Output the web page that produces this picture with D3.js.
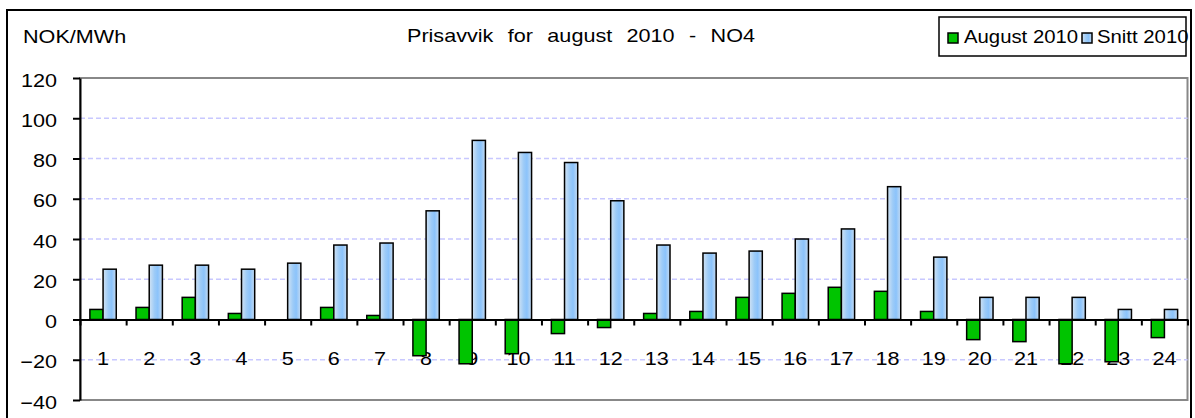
<!DOCTYPE html>
<html>
<head>
<meta charset="utf-8">
<script src="https://cdn.jsdelivr.net/npm/d3@7"></script>
<style>
  body { margin: 0; background: #fff; }
  svg text { font-family: "Liberation Sans", Arial, sans-serif; fill: #000; }
</style>
</head>
<body>
<svg id="chart" width="1195" height="418"></svg>
<script>
// data
var hours = d3.range(1, 25).map(String),
    august = [5, 6, 11, 3, 0, 6, 2, -18, -22, -17, -7, -4, 3, 4, 11, 13, 16, 14, 4, -10, -11, -22, -21, -9],
    snitt = [25, 27, 27, 25, 28, 37, 38, 54, 89, 83, 78, 59, 37, 33, 34, 40, 45, 66, 31, 11, 11, 11, 5, 5],
    yTicks = [-40, -20, 0, 20, 40, 60, 80, 100, 120],
    seriesNames = ["August 2010", "Snitt 2010"];

var svg = d3.select("#chart"),
    plotLeft = 80, plotRight = 1187.5, plotTop = 78, plotBottom = 400,
    stretch = 1.2;

var defs = svg.append("defs");
var grad = defs.append("linearGradient").attr("id", "blueFill")
    .attr("x1", "0").attr("x2", "1").attr("y1", "0").attr("y2", "0");
grad.append("stop").attr("offset", "0%").attr("stop-color", "#d2e3f3");
grad.append("stop").attr("offset", "40%").attr("stop-color", "#9dcbf7");
grad.append("stop").attr("offset", "65%").attr("stop-color", "#8bc3fb");
grad.append("stop").attr("offset", "100%").attr("stop-color", "#c6dbf1");

var x = d3.scaleBand().domain(hours).range([plotLeft, plotRight]);
var xs = d3.scaleBand().domain(seriesNames).range([0, x.bandwidth()]).paddingOuter(0.75);
var xl = d3.scaleLinear().domain([0, 24]).range([plotLeft, plotRight]);
var y = d3.scaleLinear().domain([-40, 120]).range([plotBottom, plotTop]);

// outer chart border
svg.append("rect").attr("x", 7).attr("y", 10).attr("width", 1184).attr("height", 420)
    .attr("fill", "none").attr("stroke", "#000").attr("stroke-width", 2);

// plot area border
svg.append("rect").attr("x", plotLeft).attr("y", plotTop)
    .attr("width", plotRight - plotLeft).attr("height", plotBottom - plotTop)
    .attr("fill", "none").attr("stroke", "#888").attr("stroke-width", 2);

// gridlines
svg.append("g").selectAll("line")
    .data(yTicks.filter(function(d) { return d > -40 && d < 120 && d !== 0; }))
    .join("line")
    .attr("x1", plotLeft).attr("x2", plotRight)
    .attr("y1", function(d) { return y(d); }).attr("y2", function(d) { return y(d); })
    .attr("stroke", "#c8c8ff").attr("stroke-width", 1.5).attr("stroke-dasharray", "5,3");

// category labels (sit behind the bars, as in the original)
svg.append("g").selectAll("text").data(hours).join("text")
    .attr("transform", function(d) { return "translate(" + (x(d) + x.bandwidth() / 2) + ",365) scale(" + stretch + ",1)"; })
    .attr("text-anchor", "middle").attr("font-size", 18)
    .text(function(d) { return d; });

// bars
var groups = svg.append("g").selectAll("g").data(hours).join("g")
    .attr("transform", function(d) { return "translate(" + x(d) + ",0)"; });

groups.append("rect")
    .attr("x", xs(seriesNames[0])).attr("width", xs.bandwidth())
    .attr("y", function(d, i) { return y(Math.max(0, august[i])); })
    .attr("height", function(d, i) { return Math.abs(y(august[i]) - y(0)); })
    .attr("fill", "#00c400").attr("stroke", "#000").attr("stroke-width", 1.5)
    .attr("display", function(d, i) { return august[i] === 0 ? "none" : null; });

groups.append("rect")
    .attr("x", xs(seriesNames[1])).attr("width", xs.bandwidth())
    .attr("y", function(d, i) { return y(Math.max(0, snitt[i])); })
    .attr("height", function(d, i) { return Math.abs(y(snitt[i]) - y(0)); })
    .attr("fill", "url(#blueFill)").attr("stroke", "#000").attr("stroke-width", 1.5);

// y axis
var yAxis = svg.append("g").attr("transform", "translate(" + plotLeft + ",0)")
    .call(d3.axisLeft(y).tickValues(yTicks).tickSize(7).tickSizeOuter(0));
yAxis.select(".domain").attr("stroke", "#000").attr("stroke-width", 2);
yAxis.selectAll(".tick line").attr("stroke", "#000").attr("stroke-width", 2);
yAxis.selectAll(".tick text")
    .attr("x", null).attr("dy", null)
    .attr("transform", "translate(-23,8) scale(" + stretch + ",1)")
    .attr("font-size", 18).attr("font-family", "Liberation Sans, Arial, sans-serif").attr("fill", "#000");

// x axis with ticks at category boundaries
var xAxis = svg.append("g").attr("transform", "translate(0," + y(0) + ")")
    .call(d3.axisBottom(xl).ticks(24).tickSize(6).tickSizeOuter(0).tickFormat(""));
xAxis.select(".domain").attr("stroke", "#000").attr("stroke-width", 2);
xAxis.selectAll(".tick line").attr("stroke", "#000").attr("stroke-width", 2);

// unit label and title
svg.append("text").attr("transform", "translate(23,43) scale(" + stretch + ",1)")
    .attr("font-size", 18).text("NOK/MWh");
svg.append("text").attr("transform", "translate(581,42) scale(" + stretch + ",1)")
    .attr("text-anchor", "middle").attr("font-size", 18).attr("word-spacing", 7)
    .text("Prisavvik for august 2010 - NO4");

// legend
var legend = svg.append("g");
legend.append("rect").attr("x", 939).attr("y", 17).attr("width", 247).attr("height", 39)
    .attr("fill", "#fff").attr("stroke", "#000").attr("stroke-width", 1.5);
var items = [
  {name: seriesNames[0], fill: "#00c400", mx: 948, tx: 964},
  {name: seriesNames[1], fill: "url(#blueFill)", mx: 1082, tx: 1097}
];
items.forEach(function(it) {
  legend.append("rect").attr("x", it.mx).attr("y", 33).attr("width", 10).attr("height", 10)
      .attr("fill", it.fill).attr("stroke", "#000").attr("stroke-width", 1.5);
  legend.append("text").attr("transform", "translate(" + it.tx + ",43) scale(1.13,1)")
      .attr("font-size", 18).text(it.name);
});
</script>
</body>
</html>
